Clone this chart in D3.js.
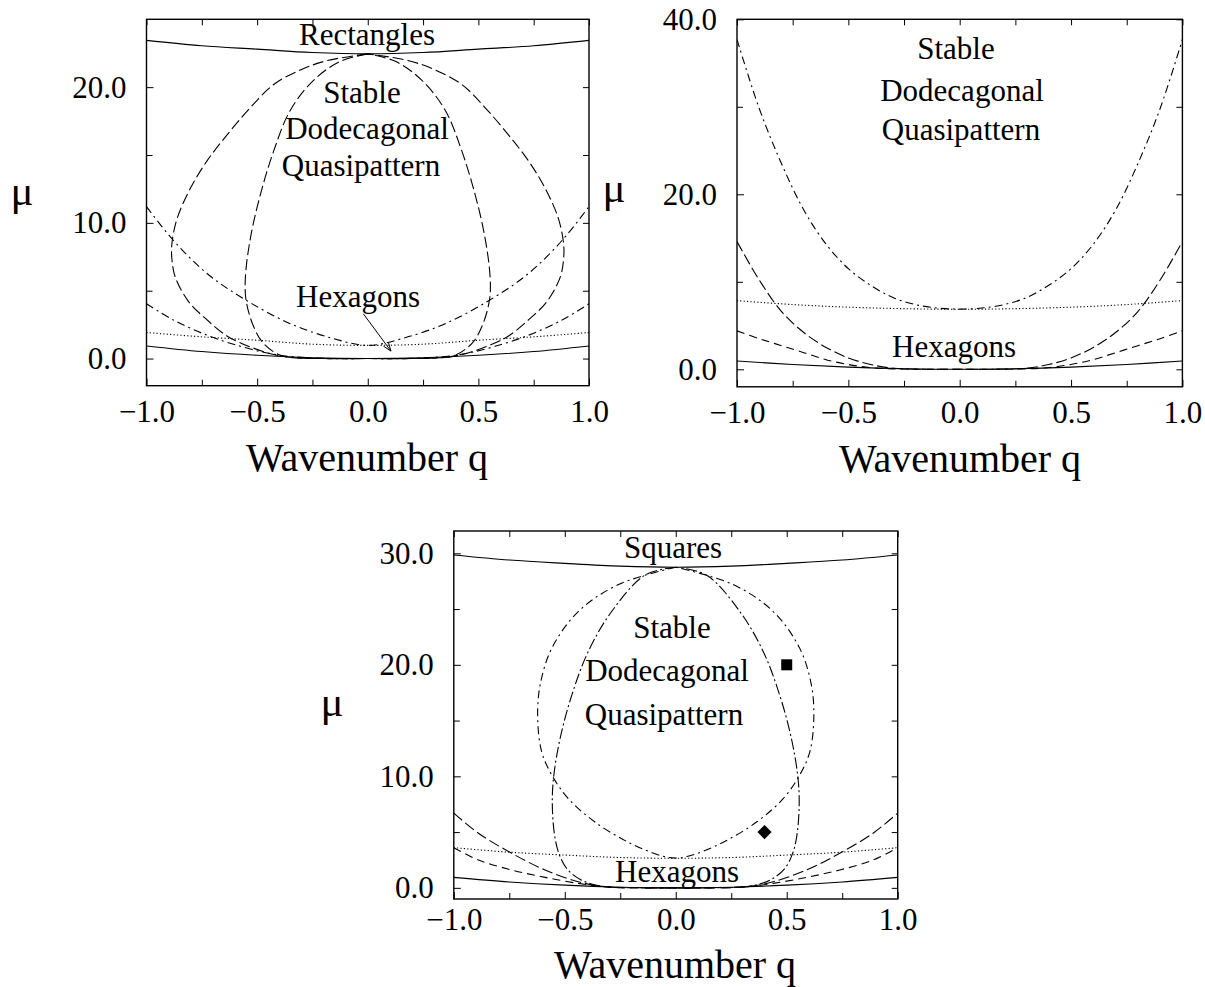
<!DOCTYPE html>
<html>
<head>
<meta charset="utf-8">
<script src="https://cdn.jsdelivr.net/npm/d3@7"></script>
<style>
  body { margin: 0; background: #fff; }
  svg text { font-family: "Liberation Serif", "Times New Roman", serif; fill: #000; }
  .curve { fill: none; stroke: #000; stroke-width: 1.1; }
</style>
</head>
<body>
<script>
// ticks
const xTicks = [-1.0, -0.5, 0.0, 0.5, 1.0]
const xMinorTicks = [-0.75, -0.25, 0.25, 0.75]
const yTicksA = [0, 10, 20], yMinorA = [5, 15]
const yTicksB = [0, 20, 40], yMinorB = [10, 30]
const yTicksC = [0, 10, 20, 30], yMinorC = [5, 15, 25]

// panel A (top left)
const rectanglesA = [[-1,23.45],[-0.75,23.05],[-0.5,22.8],[-0.25,22.55],[0,22.45],[0.25,22.55],[0.5,22.8],[0.75,23.05],[1,23.45]]
const neutralA = [[-1,0.93],[-0.75,0.52],[-0.5,0.24],[-0.25,0.06],[0,0],[0.25,0.06],[0.5,0.24],[0.75,0.52],[1,0.93]]
const dottedA = [[-1,1.92],[-0.75,1.6],[-0.5,1.35],[-0.25,1.06],[0,0.97],[0.25,1.06],[0.5,1.35],[0.75,1.6],[1,1.92]]
const vA = [[-1,11.2],[-0.878,8.7],[-0.725,6.25],[-0.55,4.3],[-0.35,2.57],[-0.155,1.47],[0,0.97],[0.155,1.47],[0.35,2.57],[0.55,4.3],[0.725,6.25],[0.878,8.7],[1,11.2]]
const uA = [[-1,4.04],[-0.876,2.82],[-0.725,1.71],[-0.575,0.9],[-0.455,0.41],[-0.35,0.15],[-0.2,0.02],[0,0],[0.2,0.02],[0.35,0.15],[0.455,0.41],[0.575,0.9],[0.725,1.71],[0.876,2.82],[1,4.04]]
const outerA = [[0,22.45],[-0.185,21.95],[-0.3,21.3],[-0.425,20.2],[-0.53,18.5],[-0.635,16.5],[-0.725,14.6],[-0.8,12.6],[-0.86,10.4],[-0.885,8.5],[-0.885,7.3],[-0.87,6.0],[-0.81,4.2],[-0.73,2.9],[-0.635,1.65],[-0.53,0.85],[-0.42,0.28],[-0.33,0.06],[-0.2,0],[0,0],
  [0.2,0],[0.33,0.06],[0.42,0.28],[0.53,0.85],[0.635,1.65],[0.73,2.9],[0.81,4.2],[0.87,6.0],[0.885,7.3],[0.885,8.5],[0.86,10.4],[0.8,12.6],[0.725,14.6],[0.635,16.5],[0.53,18.5],[0.425,20.2],[0.3,21.3],[0.185,21.95],[0,22.45]]
const innerA = [[0,22.45],[-0.125,21.9],[-0.245,20.5],[-0.35,18.3],[-0.425,15.3],[-0.485,12.1],[-0.53,8.9],[-0.553,6.0],[-0.55,4.3],[-0.515,2.32],[-0.47,1.1],[-0.395,0.24],[-0.32,0.05],[-0.2,0],[0,0],
  [0.2,0],[0.32,0.05],[0.395,0.24],[0.47,1.1],[0.515,2.32],[0.55,4.3],[0.553,6.0],[0.53,8.9],[0.485,12.1],[0.425,15.3],[0.35,18.3],[0.245,20.5],[0.125,21.9],[0,22.45]]
const arrowA = [[-0.02,3.3],[0.105,0.55]]

// panel B (top right)
const neutralB = [[-1,0.95],[-0.75,0.55],[-0.5,0.25],[-0.25,0.06],[0,0],[0.25,0.06],[0.5,0.25],[0.75,0.55],[1,0.95]]
const dottedB = [[-1,7.85],[-0.75,7.4],[-0.5,7.1],[-0.25,6.93],[0,6.86],[0.25,6.93],[0.5,7.1],[0.75,7.4],[1,7.85]]
const bigB = [[-1,37.7],[-0.9,29.8],[-0.8,23.5],[-0.7,18.2],[-0.6,14.3],[-0.5,11.5],[-0.4,9.6],[-0.3,8.2],[-0.2,7.4],[-0.1,7.0],[0,6.88],[0.1,7.0],[0.2,7.4],[0.3,8.2],[0.4,9.6],[0.5,11.5],[0.6,14.3],[0.7,18.2],[0.8,23.5],[0.9,29.8],[1,37.7]]
const steepB = [[-1,14.6],[-0.9,10.2],[-0.8,6.6],[-0.7,4.2],[-0.6,2.5],[-0.5,1.3],[-0.4,0.55],[-0.3,0.12],[-0.15,0.01],[0,0],[0.15,0.01],[0.3,0.12],[0.4,0.55],[0.5,1.3],[0.6,2.5],[0.7,4.2],[0.8,6.6],[0.9,10.2],[1,14.6]]
const shallowB = [[-1,4.4],[-0.9,3.5],[-0.8,2.7],[-0.7,1.9],[-0.6,1.1],[-0.5,0.55],[-0.4,0.2],[-0.3,0.05],[0,0],[0.3,0.05],[0.4,0.2],[0.5,0.55],[0.6,1.1],[0.7,1.9],[0.8,2.7],[0.9,3.5],[1,4.4]]

// panel C (bottom)
const squaresC = [[-1,29.85],[-0.75,29.4],[-0.5,29.1],[-0.25,28.85],[0,28.75],[0.25,28.85],[0.5,29.1],[0.75,29.4],[1,29.85]]
const neutralC = [[-1,0.94],[-0.75,0.53],[-0.5,0.24],[-0.25,0.06],[0,0],[0.25,0.06],[0.5,0.24],[0.75,0.53],[1,0.94]]
const dottedC = [[-1,3.6],[-0.75,3.2],[-0.5,2.94],[-0.25,2.72],[0,2.65],[0.25,2.72],[0.5,2.94],[0.75,3.2],[1,3.6]]
const upperC = [[-1,6.7],[-0.889,4.9],[-0.739,3.1],[-0.589,1.6],[-0.439,0.55],[-0.32,0.1],[-0.15,0],[0,0],[0.15,0],[0.32,0.1],[0.439,0.55],[0.589,1.6],[0.739,3.1],[0.889,4.9],[1,6.7]]
const lowerC = [[-1,3.6],[-0.889,2.5],[-0.739,1.6],[-0.589,0.94],[-0.439,0.4],[-0.32,0.1],[-0.15,0],[0,0],[0.15,0],[0.32,0.1],[0.439,0.4],[0.589,0.94],[0.739,1.6],[0.889,2.5],[1,3.6]]
const ovalC = [[0,28.75],[-0.258,27.2],[-0.438,24.8],[-0.558,21.5],[-0.611,18.2],[-0.622,15.2],[-0.604,12.2],[-0.558,10.1],[-0.484,8.0],[-0.364,5.9],[-0.205,4.0],[-0.06,2.85],[0,2.68],
  [0.06,2.85],[0.205,4.0],[0.364,5.9],[0.484,8.0],[0.558,10.1],[0.604,12.2],[0.622,15.2],[0.611,18.2],[0.558,21.5],[0.438,24.8],[0.258,27.2],[0,28.75]]
const narrowC = [[0,28.75],[-0.138,28.05],[-0.288,24.8],[-0.394,21.2],[-0.468,17.3],[-0.521,13.4],[-0.551,9.8],[-0.556,7.3],[-0.545,4.6],[-0.525,3.0],[-0.49,1.7],[-0.43,0.75],[-0.36,0.25],[-0.28,0.05],[-0.15,0],[0,0],
  [0.15,0],[0.28,0.05],[0.36,0.25],[0.43,0.75],[0.49,1.7],[0.525,3.0],[0.545,4.6],[0.556,7.3],[0.551,9.8],[0.521,13.4],[0.468,17.3],[0.394,21.2],[0.288,24.8],[0.138,28.05],[0,28.75]]
const squareMarkC = [[0.5, 20.0]]
const diamondMarkC = [[0.4, 5.0]]

const xTitle = 'Wavenumber q'
const yTitle = 'μ'
const regionA = ['Rectangles', 'Stable', 'Dodecagonal', 'Quasipattern', 'Hexagons']
const regionB = ['Stable', 'Dodecagonal', 'Quasipattern', 'Hexagons']
const regionC = ['Squares', 'Stable', 'Dodecagonal', 'Quasipattern', 'Hexagons']

const svg = d3.select('body').append('svg')
    .attr('width', 1205)
    .attr('height', 987)

const SOLID = null, DOT = '1.2,2.2', DASH = '8,5', LONG = '11,4', DASHDOT = '8,4,2,4', LONGDOT = '11,3,2,3'

const panels = [
    {
        box: [146.5, 19.3, 589, 385.7], yDomain: [-2, 25], yTicks: yTicksA, yMinor: yMinorA,
        curves: [[rectanglesA, SOLID], [neutralA, SOLID], [dottedA, DOT], [vA, DASHDOT], [uA, DASHDOT], [outerA, LONG], [innerA, LONG]],
        labels: regionA, labelPos: [[367, 45], [362, 103], [367, 139], [361, 176], [358, 307]],
        mu: [22, 205], title: [367, 471], arrow: arrowA, pad: 14
    },
    {
        box: [737, 19.3, 1182.4, 386.8], yDomain: [-2, 40], yTicks: yTicksB, yMinor: yMinorB,
        curves: [[neutralB, SOLID], [dottedB, DOT], [bigB, DASHDOT], [steepB, LONG], [shallowB, DASH]],
        labels: regionB, labelPos: [[956, 59], [962, 101], [961, 140], [954, 357]],
        mu: [614, 202], title: [960, 472], pad: 14
    },
    {
        box: [453.8, 531, 897.7, 899], yDomain: [-1, 32], yTicks: yTicksC, yMinor: yMinorC,
        curves: [[squaresC, SOLID], [neutralC, SOLID], [dottedC, DOT], [upperC, LONG], [lowerC, DASH], [ovalC, DASHDOT], [narrowC, LONGDOT]],
        labels: regionC, labelPos: [[673, 558], [672, 638], [667, 681], [664, 725], [677, 882]],
        mu: [332, 716], title: [675, 978], pad: 9,
        squares: squareMarkC, diamonds: diamondMarkC
    }
]

const styleAxis = (g) => {
    g.select('.domain').remove()
    g.selectAll('line').attr('stroke', '#000').attr('stroke-width', 1)
    g.selectAll('text').attr('font-size', 31).attr('font-family', '"Liberation Serif", serif')
}

panels.forEach((p, i) => {
    const [x0, y0, x1, y1] = p.box
    const x = d3.scaleLinear().domain([-1, 1]).range([x0, x1])
    const y = d3.scaleLinear().domain(p.yDomain).range([y1, y0])
    const g = svg.append('g')

    const fmt = d3.format('.1f')
    const allY = p.yTicks.concat(p.yMinor)
    const allX = xTicks.concat(xMinorTicks)

    g.append('g').attr('transform', `translate(0,${y1})`)
        .call(d3.axisBottom(x).tickValues(xTicks).tickSize(-7).tickPadding(p.pad).tickFormat(fmt)).call(styleAxis)
    g.append('g').attr('transform', `translate(0,${y1})`)
        .call(d3.axisBottom(x).tickValues(xMinorTicks).tickSize(-6).tickFormat('')).call(styleAxis)
    g.append('g').attr('transform', `translate(0,${y0})`)
        .call(d3.axisTop(x).tickValues(allX).tickSize(-6).tickFormat('')).call(styleAxis)
    g.append('g').attr('transform', `translate(${x0},0)`)
        .call(d3.axisLeft(y).tickValues(p.yTicks).tickSize(-7).tickPadding(20).tickFormat(fmt)).call(styleAxis)
    g.append('g').attr('transform', `translate(${x0},0)`)
        .call(d3.axisLeft(y).tickValues(p.yMinor).tickSize(-6).tickFormat('')).call(styleAxis)
    g.append('g').attr('transform', `translate(${x1},0)`)
        .call(d3.axisRight(y).tickValues(allY).tickSize(-6).tickFormat('')).call(styleAxis)

    svg.append('clipPath').attr('id', 'clip' + i)
        .append('rect').attr('x', x0).attr('y', y0).attr('width', x1 - x0).attr('height', y1 - y0)

    const line = d3.line()
        .x(d => x(d[0]))
        .y(d => y(d[1]))
        .curve(d3.curveCatmullRom.alpha(0.5))

    const plot = g.append('g').attr('clip-path', `url(#clip${i})`)
    p.curves.forEach(([data, dash]) => {
        plot.append('path')
            .attr('class', 'curve')
            .attr('d', line(data))
            .attr('stroke-dasharray', dash)
            .attr('stroke-width', dash === DOT ? 1 : 1.1)
    })

    if (p.squares) {
        plot.selectAll('.sq').data(p.squares).enter().append('rect')
            .attr('x', d => x(d[0]) - 5.5).attr('y', d => y(d[1]) - 5.5)
            .attr('width', 11).attr('height', 11).attr('fill', '#000')
    }
    if (p.diamonds) {
        plot.selectAll('.dm').data(p.diamonds).enter().append('path')
            .attr('transform', d => `translate(${x(d[0])},${y(d[1])}) rotate(45)`)
            .attr('d', 'M-5,-5H5V5H-5Z').attr('fill', '#000')
    }

    g.append('rect')
        .attr('x', x0).attr('y', y0).attr('width', x1 - x0).attr('height', y1 - y0)
        .attr('fill', 'none').attr('stroke', '#000').attr('stroke-width', 1.4)

    p.labels.forEach((t, k) => {
        g.append('text').attr('x', p.labelPos[k][0]).attr('y', p.labelPos[k][1])
            .attr('text-anchor', 'middle').attr('font-size', 31).text(t)
    })

    if (p.arrow) {
        const [a, b] = p.arrow.map(d => [x(d[0]), y(d[1])])
        const ang = Math.atan2(b[1] - a[1], b[0] - a[0])
        const h = 9, w = 0.35
        g.append('line').attr('x1', a[0]).attr('y1', a[1]).attr('x2', b[0]).attr('y2', b[1])
            .attr('stroke', '#000').attr('stroke-width', 1)
        g.append('path')
            .attr('d', `M${b[0] - h * Math.cos(ang - w)},${b[1] - h * Math.sin(ang - w)}L${b[0]},${b[1]}L${b[0] - h * Math.cos(ang + w)},${b[1] - h * Math.sin(ang + w)}`)
            .attr('fill', 'none').attr('stroke', '#000').attr('stroke-width', 1)
    }

    g.append('text').attr('x', p.mu[0]).attr('y', p.mu[1])
        .attr('text-anchor', 'middle').attr('font-size', 43).text(yTitle)
    g.append('text').attr('x', p.title[0]).attr('y', p.title[1])
        .attr('text-anchor', 'middle').attr('font-size', 40).text(xTitle)
})
</script>
</body>
</html>
